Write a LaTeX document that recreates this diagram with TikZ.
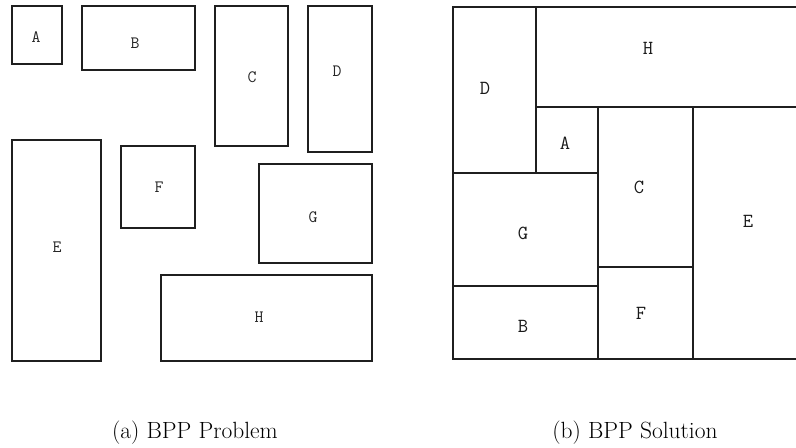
\documentclass[tikz,border=0pt]{standalone}
\begin{document}
\begin{tikzpicture}[x=0.75pt,y=-0.75pt,
  boxline/.style={draw=black!88,line width=2pt},
  lblL/.style={font=\ttfamily\fontsize{13}{14}\selectfont,text=black!85,inner sep=0pt},
  lblR/.style={font=\ttfamily\fontsize{15}{16}\selectfont,text=black!90,inner sep=0pt},
  capt/.style={font=\fontsize{17.6}{20}\selectfont,inner sep=0pt}]
\useasboundingbox (0,0) rectangle (796,447);
\clip (0,0) rectangle (796,447);
% ---- (a) problem ----
\draw[boxline] (12,6) rectangle (62,64);
\draw[boxline] (82,6) rectangle (195,70);
\draw[boxline] (215,6) rectangle (288,146);
\draw[boxline] (308,6) rectangle (372,152);
\draw[boxline] (12,140) rectangle (101,361);
\draw[boxline] (121,146) rectangle (195,228);
\draw[boxline] (259,164) rectangle (372,263);
\draw[boxline] (161,275) rectangle (372,361);
\node[lblL] (pA) at (36,37) {A};
\node[lblL] (pB) at (135,43) {B};
\node[lblL] (pC) at (252,77) {C};
\node[lblL] (pD) at (337,71) {D};
\node[lblL] (pE) at (57,247) {E};
\node[lblL] (pF) at (159,187) {F};
\node[lblL] (pG) at (313,217) {G};
\node[lblL] (pH) at (259,317) {H};
% ---- (b) solution ----
\draw[boxline] (453,7) rectangle (536,173);
\draw[boxline] (536,7) rectangle (810,107);
\draw[boxline] (536,107) rectangle (598,173);
\draw[boxline] (598,107) rectangle (693,267);
\draw[boxline] (693,107) rectangle (810,359);
\draw[boxline] (453,173) rectangle (598,286);
\draw[boxline] (453,286) rectangle (598,359);
\draw[boxline] (598,267) rectangle (693,359);
\node[lblR] (sH) at (648,48) {H};
\node[lblR] (sD) at (485,88) {D};
\node[lblR] (sA) at (565,143) {A};
\node[lblR] (sC) at (639,187) {C};
\node[lblR] (sE) at (748,221) {E};
\node[lblR] (sG) at (523,233) {G};
\node[lblR] (sB) at (523,326) {B};
\node[lblR] (sF) at (641,313) {F};
% ---- captions ----
\node[capt] (ca) at (195,433) {(a) BPP Problem};
\node[capt] (cb) at (635,433) {(b) BPP Solution};
\end{tikzpicture}
\end{document}
